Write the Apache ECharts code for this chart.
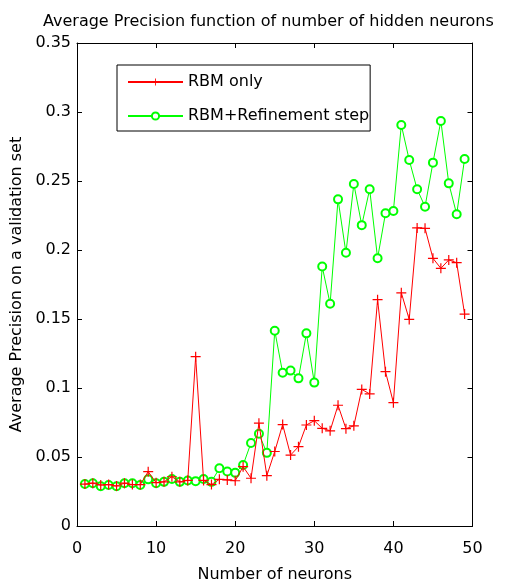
<!DOCTYPE html>
<html><head><meta charset="utf-8">
<script src="https://cdn.jsdelivr.net/npm/echarts@6/dist/echarts.min.js"></script>
<style>html,body{margin:0;padding:0;background:#fff}#c{width:505px;height:580px}</style>
</head><body><div id="c"></div>
<script>
var neurons = [1,2,3,4,5,6,7,8,9,10,11,12,13,14,15,16,17,18,19,20,21,22,23,24,25,26,27,28,29,30,31,32,33,34,35,36,37,38,39,40,41,42,43,44,45,46,47,48,49];
var rbmOnly = [0.0304,0.031,0.0297,0.030,0.029,0.031,0.030,0.030,0.0394,0.0314,0.032,0.0357,0.032,0.033,0.1227,0.033,0.030,0.0338,0.0334,0.0328,0.043,0.0346,0.0745,0.0365,0.054,0.0735,0.0514,0.0575,0.0732,0.0763,0.0708,0.069,0.0875,0.0705,0.0726,0.099,0.0957,0.164,0.1118,0.0894,0.169,0.1497,0.216,0.2157,0.194,0.1867,0.1928,0.1908,0.1536];
var rbmRefine = [0.0304,0.031,0.0288,0.0297,0.0288,0.031,0.031,0.0297,0.0338,0.031,0.032,0.034,0.032,0.033,0.0325,0.034,0.032,0.0418,0.0395,0.0385,0.0442,0.0602,0.0668,0.053,0.1415,0.111,0.1126,0.107,0.1396,0.1039,0.188,0.161,0.2367,0.198,0.2478,0.218,0.244,0.194,0.2266,0.2283,0.2906,0.2652,0.244,0.2314,0.2633,0.2935,0.2483,0.2259,0.266];
var seriesNames = ['RBM only', 'RBM+Refinement step'];
var titleText = 'Average Precision function of number of hidden neurons';
var xName = 'Number of neurons';
var yName = 'Average Precision on a validation set';

function pairs(xs, ys){ return xs.map(function(x,i){ return [x, ys[i]]; }); }
var FONT = '"DejaVu Sans", sans-serif';
var FS = 16;
var plus = 'path://M4.4,0H5.6V4.4H10V5.6H5.6V10H4.4V5.6H0V4.4H4.4Z';
var chart = echarts.init(document.getElementById('c'), null, {renderer:'canvas'});
var axisCommon = {
  min: 0,
  axisLine: {show:true, onZero:false, lineStyle:{color:'#000', width:1}},
  axisTick: {show:true, inside:true, length:5, lineStyle:{color:'#000'}},
  splitLine: {show:false}
};
chart.setOption({
  animation:false,
  backgroundColor:'#fff',
  title:{text:titleText, left:38, top:9, textStyle:{fontFamily:FONT, fontSize:FS, fontWeight:'normal', color:'#000'}},
  grid:{left:77, right:32.5, top:43, bottom:54, containLabel:false, outerBoundsMode:'none'},
  legend:{
    orient:'vertical', left:117, top:65,
    backgroundColor:'#fff', borderColor:'#000', borderWidth:1,
    padding:[9,1,7,10], itemGap:18, itemWidth:55, itemHeight:9,
    textStyle:{fontFamily:FONT, fontSize:FS, color:'#000'},
    data:seriesNames
  },
  xAxis:[
    Object.assign({}, axisCommon, {type:'value', max:50, interval:10, position:'bottom',
      name:xName, nameLocation:'middle', nameGap:41,
      nameTextStyle:{fontFamily:FONT, fontSize:FS, color:'#000'},
      axisLabel:{fontFamily:FONT, fontSize:FS, color:'#000', margin:15}}),
    Object.assign({}, axisCommon, {type:'value', max:50, interval:10, position:'top', axisLabel:{show:false}})
  ],
  yAxis:[
    Object.assign({}, axisCommon, {type:'value', max:0.35, interval:0.05, position:'left',
      name:yName, nameLocation:'middle', nameGap:52,
      nameTextStyle:{fontFamily:FONT, fontSize:FS, color:'#000'},
      axisLabel:{fontFamily:FONT, fontSize:FS, color:'#000', margin:6,
        formatter:function(v){ return String(Math.round(v*100)/100); }}}),
    Object.assign({}, axisCommon, {type:'value', max:0.35, interval:0.05, position:'right', axisLabel:{show:false}})
  ],
  series:[
    {name:seriesNames[0], type:'line', data:pairs(neurons, rbmOnly),
      symbol:plus, symbolSize:10, showAllSymbol:true,
      lineStyle:{color:'#ff0000', width:1}, itemStyle:{color:'#ff0000'}, z:3},
    {name:seriesNames[1], type:'line', data:pairs(neurons, rbmRefine),
      symbol:'emptyCircle', symbolSize:8, showAllSymbol:true,
      lineStyle:{color:'#00ff00', width:1}, itemStyle:{color:'#00ff00', borderColor:'#00ff00', borderWidth:1}, z:2}
  ]
});
</script></body></html>
